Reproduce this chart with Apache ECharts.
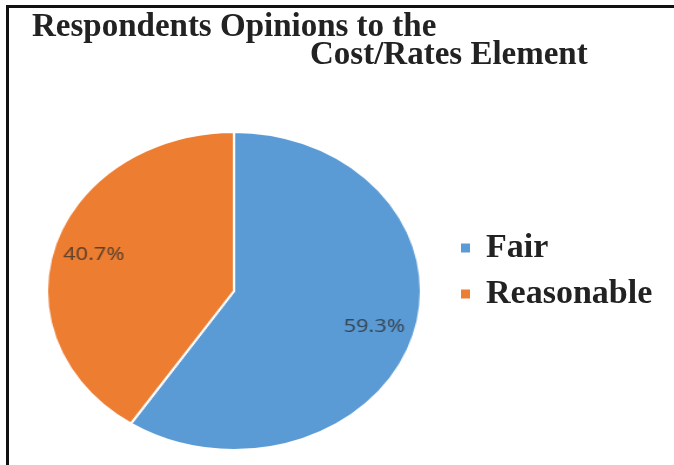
<!DOCTYPE html>
<html>
<head>
<meta charset="utf-8">
<script src="https://cdn.jsdelivr.net/npm/echarts@6/dist/echarts.min.js"></script>
<style>
  html, body { margin: 0; padding: 0; background: #fff; }
  #wrap { position: relative; width: 674px; height: 465px; overflow: hidden; background: #fff; }
  #frame { position: absolute; left: 6px; top: 5px; right: -10px; bottom: -10px;
           border-top: 3px solid #111; border-left: 3px solid #111; }
  /* pie is drawn round, then stretched sideways to the oval of the original */
  #pie { position: absolute; left: 64px; top: 121px; width: 340px; height: 340px;
         transform: scaleX(1.176); transform-origin: 50% 50%; }
  #main { position: absolute; left: 0; top: 0; width: 674px; height: 465px; }
</style>
</head>
<body>
<div id="wrap">
  <div id="frame"></div>
  <div id="pie"></div>
  <div id="main"></div>
</div>
<script>
var titleLines = ["Respondents Opinions to the", "Cost/Rates Element"];
var categories = ["Fair", "Reasonable"];
var values = [59.3, 40.7];
var colors = ["#5B9BD5", "#ED7D31"];

var pieData = categories.map(function (name, i) {
  return { name: name, value: values[i], itemStyle: { color: colors[i] } };
});

// the pie itself
var pieChart = echarts.init(document.getElementById("pie"));
pieChart.setOption({
  animation: false,
  series: [
    {
      type: "pie",
      center: ["50%", "50%"],
      radius: [0, 159],
      startAngle: 90,
      clockwise: true,
      silent: true,
      label: { show: false },
      labelLine: { show: false },
      itemStyle: { borderColor: "#fff", borderWidth: 2 },
      data: pieData,
    },
    {
      // transparent ring only used to place the percent labels
      type: "pie",
      center: ["50%", "50%"],
      radius: [84, 159],
      startAngle: 90,
      clockwise: true,
      silent: true,
      itemStyle: { color: "rgba(0,0,0,0)" },
      label: {
        show: true,
        position: "inside",
        formatter: function (p) {
          return p.value.toFixed(1) + "%";
        },
        fontFamily: "Noto Sans",
        fontSize: 18.5,
        color: "rgba(40,40,40,0.72)",
      },
      labelLine: { show: false },
      data: categories.map(function (name, i) {
        return { name: name, value: values[i] };
      }),
    },
  ],
});

// title + legend on top
var serifBold = { fontFamily: "Liberation Serif", fontWeight: "bold", fontSize: 33, color: "#222" };
var mainChart = echarts.init(document.getElementById("main"));
mainChart.setOption({
  animation: false,
  backgroundColor: "transparent",
  title: [
    { text: titleLines[0], left: 27, top: 6, textStyle: serifBold },
    { text: titleLines[1], left: 305, top: 34, textStyle: serifBold },
  ],
  legend: {
    orient: "vertical",
    left: 456,
    top: 226,
    icon: "rect",
    itemWidth: 9,
    itemHeight: 9,
    itemGap: 12,
    data: categories,
    textStyle: Object.assign({}, serifBold, { fontSize: 34, padding: [0, 0, 0, 11] }),
  },
  series: [
    {
      type: "pie",
      radius: [0, 0],
      silent: true,
      label: { show: false },
      data: pieData,
    },
  ],
});
</script>
</body>
</html>
